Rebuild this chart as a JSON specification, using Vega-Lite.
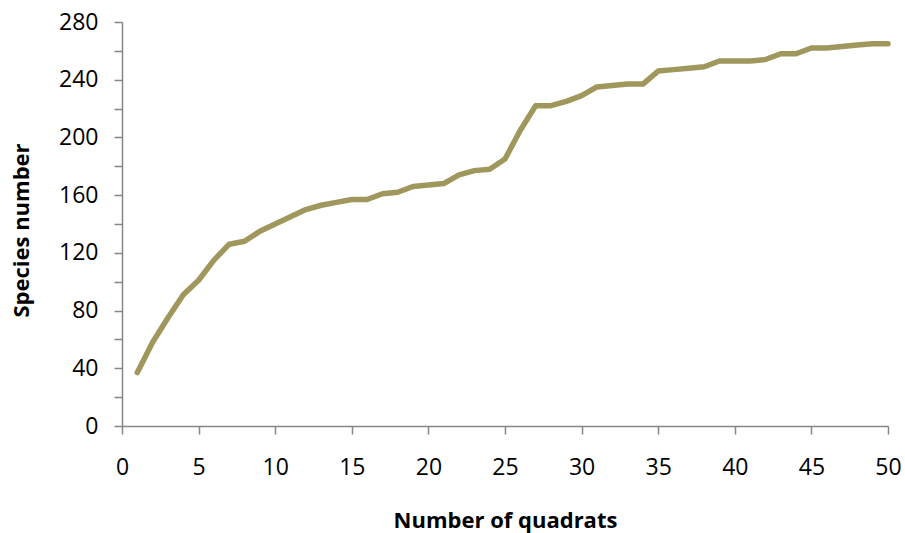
{
  "$schema": "https://vega.github.io/schema/vega-lite/v6.json",
  "width": 766,
  "height": 404,
  "autosize": {"type": "none"},
  "padding": {"left": 122, "top": 22, "right": 17, "bottom": 107},
  "background": "white",
  "config": {
    "view": {"stroke": null},
    "font": "Open Sans"
  },
  "data": {
    "values": [
      {"q": 1, "s": 37}, {"q": 2, "s": 58}, {"q": 3, "s": 75}, {"q": 4, "s": 91}, {"q": 5, "s": 101},
      {"q": 6, "s": 115}, {"q": 7, "s": 126}, {"q": 8, "s": 128}, {"q": 9, "s": 135}, {"q": 10, "s": 140},
      {"q": 11, "s": 145}, {"q": 12, "s": 150}, {"q": 13, "s": 153}, {"q": 14, "s": 155}, {"q": 15, "s": 157},
      {"q": 16, "s": 157}, {"q": 17, "s": 161}, {"q": 18, "s": 162}, {"q": 19, "s": 166}, {"q": 20, "s": 167},
      {"q": 21, "s": 168}, {"q": 22, "s": 174}, {"q": 23, "s": 177}, {"q": 24, "s": 178}, {"q": 25, "s": 185},
      {"q": 26, "s": 205}, {"q": 27, "s": 222}, {"q": 28, "s": 222}, {"q": 29, "s": 225}, {"q": 30, "s": 229},
      {"q": 31, "s": 235}, {"q": 32, "s": 236}, {"q": 33, "s": 237}, {"q": 34, "s": 237}, {"q": 35, "s": 246},
      {"q": 36, "s": 247}, {"q": 37, "s": 248}, {"q": 38, "s": 249}, {"q": 39, "s": 253}, {"q": 40, "s": 253},
      {"q": 41, "s": 253}, {"q": 42, "s": 254}, {"q": 43, "s": 258}, {"q": 44, "s": 258}, {"q": 45, "s": 262},
      {"q": 46, "s": 262}, {"q": 47, "s": 263}, {"q": 48, "s": 264}, {"q": 49, "s": 265}, {"q": 50, "s": 265}
    ]
  },
  "mark": {"type": "line", "color": "#9F975B", "strokeWidth": 5.5, "strokeCap": "round", "strokeJoin": "round"},
  "encoding": {
    "x": {
      "field": "q",
      "type": "quantitative",
      "scale": {"domain": [0, 50], "nice": false, "zero": false},
      "axis": {
        "title": "Number of quadrats",
        "values": [0, 5, 10, 15, 20, 25, 30, 35, 40, 45, 50],
        "grid": false,
        "domainColor": "#868686",
        "domainWidth": 1.5,
        "tickColor": "#868686",
        "tickWidth": 1.5,
        "tickSize": 8,
        "labelFont": "Open Sans",
        "labelFontSize": 23,
        "labelColor": "#000000",
        "labelPadding": 22,
        "labelFlush": false,
        "labelOverlap": false,
        "titleFont": "Open Sans",
        "titleFontSize": 22,
        "titleFontWeight": "bold",
        "titleColor": "#000000",
        "titleBaseline": "alphabetic",
        "titleY": 101
      }
    },
    "y": {
      "field": "s",
      "type": "quantitative",
      "scale": {"domain": [0, 280], "nice": false},
      "axis": {
        "title": "Species number",
        "values": [0, 20, 40, 60, 80, 100, 120, 140, 160, 180, 200, 220, 240, 260, 280],
        "labelExpr": "datum.value % 40 === 0 ? datum.label : ''",
        "grid": false,
        "domainColor": "#868686",
        "domainWidth": 1.5,
        "tickColor": "#868686",
        "tickWidth": 1.5,
        "tickSize": 8,
        "labelFont": "Open Sans",
        "labelFontSize": 23,
        "labelColor": "#000000",
        "labelPadding": 16,
        "labelFlush": false,
        "labelOverlap": false,
        "titleFont": "Open Sans",
        "titleFontSize": 22,
        "titleFontWeight": "bold",
        "titleColor": "#000000",
        "titleBaseline": "alphabetic",
        "titleX": -94,
        "titleY": 208
      }
    }
  }
}
